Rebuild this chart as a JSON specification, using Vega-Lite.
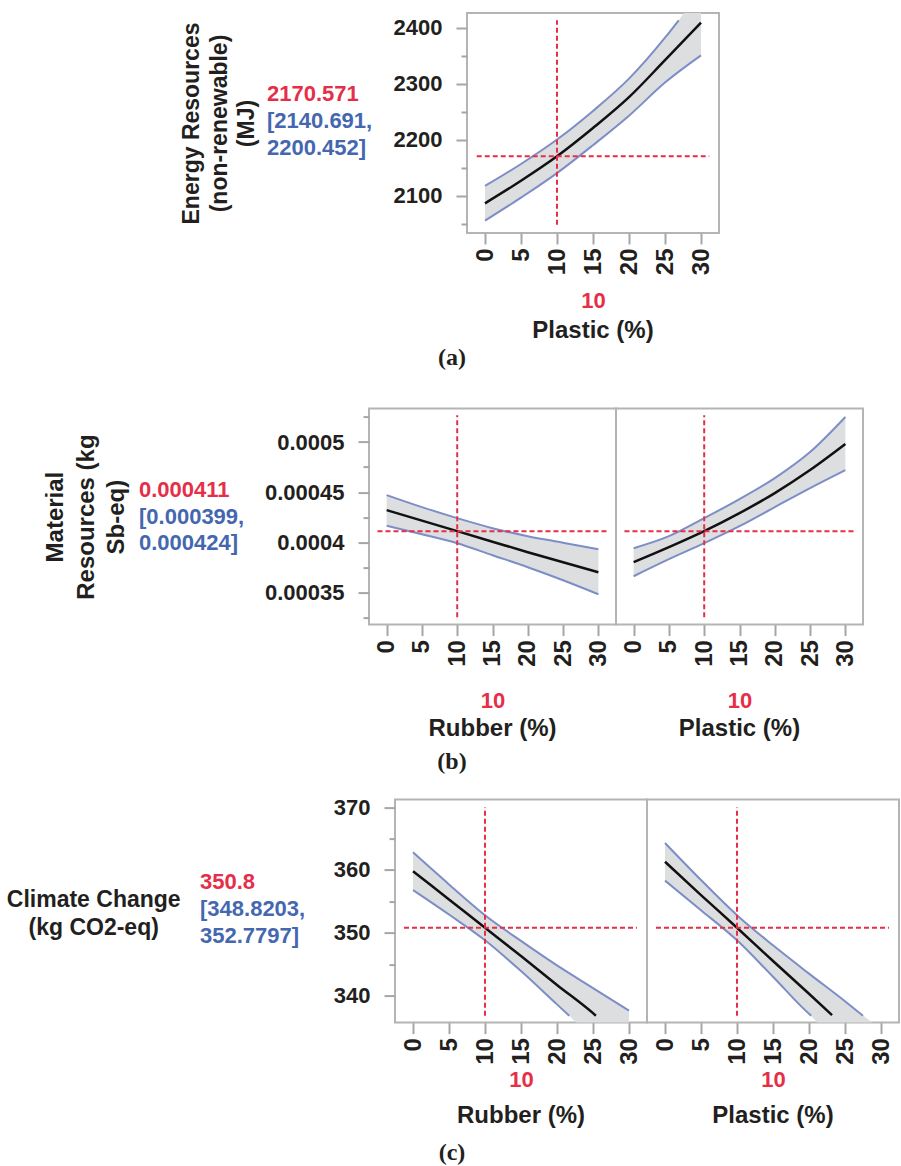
{
"$schema": "https://vega.github.io/schema/vega-lite/v6.json",
"background": "white",
"padding": {"left": 0, "top": 12, "right": 0, "bottom": 0},
"config": {
  "view": {"stroke": "#b4b4b4", "strokeWidth": 2},
  "axis": {"labelFont": "Liberation Sans", "labelFontWeight": "bold", "labelFontSize": 22, "labelColor": "#231f20", "titleFont": "Liberation Sans", "titleFontWeight": "bold", "titleFontSize": 22, "titleColor": "#231f20", "domain": false, "grid": false, "tickColor": "#a6a6a6", "tickWidth": 2, "labelOverlap": false, "labelFlush": false, "labelBound": false},
  "axisX": {"labelAngle": 270, "labelPadding": 4, "labelFontSize": 24, "tickSize": 11, "titleColor": "#e62e48"},
  "axisY": {"labelPadding": 14},
  "title": {"font": "Liberation Sans", "fontSize": 24, "fontWeight": "bold", "color": "#231f20"}
},
"datasets": {
  "a_band": [{"x":0,"lo":2056,"hi":2118},{"x":5,"lo":2097,"hi":2157},{"x":10,"lo":2140.7,"hi":2200.5},{"x":15,"lo":2190.5,"hi":2251.5},{"x":20,"lo":2243,"hi":2309},{"x":25,"lo":2302,"hi":2382},{"x":30,"lo":2350.5,"hi":2467}],
  "a_lines": [
    {"s":"m","x":0,"y":2086.8},{"s":"m","x":5,"y":2127},{"s":"m","x":10,"y":2170.6},{"s":"m","x":15,"y":2221},{"s":"m","x":20,"y":2276},{"s":"m","x":25,"y":2342},{"s":"m","x":30,"y":2409},
    {"s":"u","x":0,"y":2118},{"s":"u","x":5,"y":2157},{"s":"u","x":10,"y":2200.5},{"s":"u","x":15,"y":2251.5},{"s":"u","x":20,"y":2309},{"s":"u","x":25,"y":2382},{"s":"u","x":26.9,"y":2413},
    {"s":"l","x":0,"y":2056},{"s":"l","x":5,"y":2097},{"s":"l","x":10,"y":2140.7},{"s":"l","x":15,"y":2190.5},{"s":"l","x":20,"y":2243},{"s":"l","x":25,"y":2302},{"s":"l","x":30,"y":2350.5}],
  "a_ref": [{"ref":"x","at":10,"from":2048.5,"to":2413},{"ref":"y","at":2170.571,"from":-1.15,"to":31.15}],
  "b1_band": [{"x":0,"lo":0.0004165,"hi":0.000447},{"x":5,"lo":0.000408,"hi":0.000435},{"x":10,"lo":0.000399,"hi":0.000424},{"x":15,"lo":0.000387,"hi":0.000414},{"x":20,"lo":0.000375,"hi":0.000406},{"x":25,"lo":0.000362,"hi":0.0003995},{"x":30,"lo":0.000348,"hi":0.000393}],
  "b1_lines": [
    {"s":"m","x":0,"y":0.000432},{"s":"m","x":5,"y":0.0004215},{"s":"m","x":10,"y":0.000411},{"s":"m","x":15,"y":0.0004005},{"s":"m","x":20,"y":0.00039},{"s":"m","x":25,"y":0.00038},{"s":"m","x":30,"y":0.00037},
    {"s":"u","x":0,"y":0.000447},{"s":"u","x":5,"y":0.000435},{"s":"u","x":10,"y":0.000424},{"s":"u","x":15,"y":0.000414},{"s":"u","x":20,"y":0.000406},{"s":"u","x":25,"y":0.0003995},{"s":"u","x":30,"y":0.000393},
    {"s":"l","x":0,"y":0.0004165},{"s":"l","x":5,"y":0.000408},{"s":"l","x":10,"y":0.000399},{"s":"l","x":15,"y":0.000387},{"s":"l","x":20,"y":0.000375},{"s":"l","x":25,"y":0.000362},{"s":"l","x":30,"y":0.000348}],
  "b2_band": [{"x":0,"lo":0.000366,"hi":0.000394},{"x":5,"lo":0.000383,"hi":0.000406},{"x":10,"lo":0.000399,"hi":0.000424},{"x":15,"lo":0.000416,"hi":0.000443},{"x":20,"lo":0.000435,"hi":0.000464},{"x":25,"lo":0.000454,"hi":0.00049},{"x":30,"lo":0.000472,"hi":0.000525}],
  "b2_lines": [
    {"s":"m","x":0,"y":0.00038},{"s":"m","x":5,"y":0.000395},{"s":"m","x":10,"y":0.000411},{"s":"m","x":15,"y":0.000429},{"s":"m","x":20,"y":0.000449},{"s":"m","x":25,"y":0.000472},{"s":"m","x":30,"y":0.000498},
    {"s":"u","x":0,"y":0.000394},{"s":"u","x":5,"y":0.000406},{"s":"u","x":10,"y":0.000424},{"s":"u","x":15,"y":0.000443},{"s":"u","x":20,"y":0.000464},{"s":"u","x":25,"y":0.00049},{"s":"u","x":30,"y":0.000525},
    {"s":"l","x":0,"y":0.000366},{"s":"l","x":5,"y":0.000383},{"s":"l","x":10,"y":0.000399},{"s":"l","x":15,"y":0.000416},{"s":"l","x":20,"y":0.000435},{"s":"l","x":25,"y":0.000454},{"s":"l","x":30,"y":0.000472}],
  "b_ref": [{"ref":"x","at":10,"from":0.000325,"to":0.0005267},{"ref":"y","at":0.000411,"from":-1.3,"to":31.2}],
  "c1_band": [{"x":0,"lo":356.8,"hi":362.8},{"x":5,"lo":352.9,"hi":357.7},{"x":10,"lo":348.8,"hi":352.8},{"x":15,"lo":343.9,"hi":348.7},{"x":20,"lo":338.6,"hi":344.8},{"x":25,"lo":333.2,"hi":341.2},{"x":30,"lo":327.6,"hi":337.6}],
  "c1_lines": [
    {"s":"m","x":0,"y":359.8},{"s":"m","x":5,"y":355.3},{"s":"m","x":10,"y":350.8},{"s":"m","x":15,"y":346.3},{"s":"m","x":20,"y":341.7},{"s":"m","x":25,"y":337.2},{"s":"m","x":25.4,"y":336.8},
    {"s":"u","x":0,"y":362.8},{"s":"u","x":5,"y":357.7},{"s":"u","x":10,"y":352.8},{"s":"u","x":15,"y":348.7},{"s":"u","x":20,"y":344.8},{"s":"u","x":25,"y":341.2},{"s":"u","x":30,"y":337.6},
    {"s":"l","x":0,"y":356.8},{"s":"l","x":5,"y":352.9},{"s":"l","x":10,"y":348.8},{"s":"l","x":15,"y":343.9},{"s":"l","x":20,"y":338.6},{"s":"l","x":21.7,"y":336.8}],
  "c2_band": [{"x":0,"lo":358.3,"hi":364.3},{"x":5,"lo":353.6,"hi":358.4},{"x":10,"lo":348.8,"hi":352.8},{"x":15,"lo":343.0,"hi":348.0},{"x":20,"lo":337.1,"hi":343.5},{"x":25,"lo":331.1,"hi":339.1},{"x":30,"lo":325.0,"hi":334.6}],
  "c2_lines": [
    {"s":"m","x":0,"y":361.3},{"s":"m","x":5,"y":356.0},{"s":"m","x":10,"y":350.8},{"s":"m","x":15,"y":345.5},{"s":"m","x":20,"y":340.3},{"s":"m","x":23.2,"y":336.9},
    {"s":"u","x":0,"y":364.3},{"s":"u","x":5,"y":358.4},{"s":"u","x":10,"y":352.8},{"s":"u","x":15,"y":348.0},{"s":"u","x":20,"y":343.5},{"s":"u","x":25,"y":339.1},{"s":"u","x":27.5,"y":336.8},
    {"s":"l","x":0,"y":358.3},{"s":"l","x":5,"y":353.6},{"s":"l","x":10,"y":348.8},{"s":"l","x":15,"y":343.0},{"s":"l","x":20,"y":337.1},{"s":"l","x":20.3,"y":336.8}],
  "c_ref": [{"ref":"x","at":10,"from":336.8,"to":370},{"ref":"y","at":350.8,"from":-1.25,"to":31.1}]
},
"vconcat": [
{
  "hconcat": [
    {"width": 266.4, "height": 220, "view": {"stroke": null}, "data": {"values": []}, "mark": {"type": "rect", "opacity": 0}},
    {"width": 200, "height": 220, "view": {"stroke": null},
     "data": {"values": [{"line": 1, "k": "est", "t": "2170.571"}, {"line": 2, "k": "ci", "t": "[2140.691,"}, {"line": 3, "k": "ci", "t": "2200.452]"}]},
     "mark": {"type": "text", "align": "left", "baseline": "middle", "font": "Liberation Sans", "fontSize": 22, "fontWeight": "bold"},
     "encoding": {"text": {"field": "t"}, "x": {"datum": 0, "type": "quantitative", "scale": {"domain": [0, 1]}, "axis": null},
       "y": {"field": "line", "type": "quantitative", "scale": {"domain": [-1.96, 6.128], "reverse": true, "nice": false, "zero": false},
             "axis": {"labels": false, "ticks": false, "domain": false, "grid": false, "title": ["Energy Resources", "(non-renewable)", "(MJ)"], "titlePadding": 8, "titleFontSize": 23, "titleLineHeight": 27.7}},
       "color": {"field": "k", "type": "nominal", "scale": {"domain": ["est", "ci"], "range": ["#e62e48", "#4467b0"]}, "legend": null}}},
    {"width": 252, "height": 220,
     "title": {"text": "Plastic (%)", "orient": "bottom", "anchor": "middle", "frame": "group", "offset": 7},
     "layer": [
       {"data": {"name": "a_band"}, "mark": {"type": "area", "color": "#dddee0", "interpolate": "monotone", "clip": true},
        "encoding": {"x": {"field": "x", "type": "quantitative", "scale": {"domain": [-2.5, 32.5], "nice": false, "zero": false}, "axis": {"values": [0,5,10,15,20,25,30], "tickCount": 20, "title": "10", "titlePadding": 16, "labelOverlap": false}},
          "y": {"field": "lo", "type": "quantitative", "scale": {"domain": [2034, 2426], "nice": false, "zero": false}, "axis": {"values": [2050,2100,2150,2200,2250,2300,2350,2400], "tickCount": 20, "title": null, "labelOverlap": false, "labelExpr": "datum.value % 100 === 0 ? format(datum.value, 'd') : ''", "tickSize": {"condition": {"test": "datum.value % 100 === 0", "value": 11}, "value": 6}}},
          "y2": {"field": "hi"}}},
       {"data": {"name": "a_lines"}, "transform": [{"filter": "datum.s !== 'm'"}], "mark": {"type": "line", "color": "#7d8ec7", "strokeWidth": 2, "interpolate": "monotone", "clip": true},
        "encoding": {"x": {"field": "x", "type": "quantitative", "scale": {"domain": [-2.5, 32.5], "nice": false, "zero": false}}, "y": {"field": "y", "type": "quantitative", "scale": {"domain": [2034, 2426], "nice": false, "zero": false}}, "detail": {"field": "s"}}},
       {"data": {"name": "a_lines"}, "transform": [{"filter": "datum.s === 'm'"}], "mark": {"type": "line", "color": "#111111", "strokeWidth": 2.5, "interpolate": "monotone", "clip": true},
        "encoding": {"x": {"field": "x", "type": "quantitative", "scale": {"domain": [-2.5, 32.5], "nice": false, "zero": false}}, "y": {"field": "y", "type": "quantitative", "scale": {"domain": [2034, 2426], "nice": false, "zero": false}}}},
       {"data": {"name": "a_ref"}, "transform": [{"filter": "datum.ref === 'x'"}], "mark": {"type": "rule", "color": "#e62e48", "strokeWidth": 2, "strokeDash": [5, 3]},
        "encoding": {"x": {"field": "at", "type": "quantitative", "scale": {"domain": [-2.5, 32.5], "nice": false, "zero": false}}, "y": {"field": "from", "type": "quantitative", "scale": {"domain": [2034, 2426], "nice": false, "zero": false}}, "y2": {"field": "to"}}},
       {"data": {"name": "a_ref"}, "transform": [{"filter": "datum.ref === 'y'"}], "mark": {"type": "rule", "color": "#e62e48", "strokeWidth": 2, "strokeDash": [5, 3]},
        "encoding": {"y": {"field": "at", "type": "quantitative", "scale": {"domain": [2034, 2426], "nice": false, "zero": false}}, "x": {"field": "from", "type": "quantitative", "scale": {"domain": [-2.5, 32.5], "nice": false, "zero": false}}, "x2": {"field": "to"}}}
     ]}
  ],
  "spacing": 0, "bounds": "flush",
  "title": {"text": "(a)", "orient": "bottom", "anchor": "middle", "frame": "group", "dx": 452, "offset": 2, "font": "Liberation Serif", "fontSize": 24, "fontWeight": "bold", "color": "#231f20"}
},
{
"vconcat": [
{
  "hconcat": [
    {"width": 138.3, "height": 216, "view": {"stroke": null}, "data": {"values": []}, "mark": {"type": "rect", "opacity": 0}},
    {"width": 230, "height": 216, "view": {"stroke": null},
     "data": {"values": [{"line": 1, "k": "est", "t": "0.000411"}, {"line": 2, "k": "ci", "t": "[0.000399,"}, {"line": 3, "k": "ci", "t": "0.000424]"}]},
     "mark": {"type": "text", "align": "left", "baseline": "middle", "font": "Liberation Sans", "fontSize": 22, "fontWeight": "bold"},
     "encoding": {"text": {"field": "t"}, "x": {"datum": 0, "type": "quantitative", "scale": {"domain": [0, 1]}, "axis": null},
       "y": {"field": "line", "type": "quantitative", "scale": {"domain": [-2.045, 6.045], "reverse": true, "nice": false, "zero": false},
             "axis": {"labels": false, "ticks": false, "domain": false, "grid": false, "title": ["Material", "Resources (kg", "Sb-eq)"], "titlePadding": 10.5, "titleFontSize": 24, "titleLineHeight": 30.5}},
       "color": {"field": "k", "type": "nominal", "scale": {"domain": ["est", "ci"], "range": ["#e62e48", "#4467b0"]}, "legend": null}}},
    {"hconcat": [
      {"width": 247, "height": 216,
       "title": {"text": "Rubber (%)", "orient": "bottom", "anchor": "middle", "frame": "group", "offset": 5.5},
       "layer": [
         {"data": {"name": "b1_band"}, "mark": {"type": "area", "color": "#dddee0", "interpolate": "monotone", "clip": true},
          "encoding": {"x": {"field": "x", "type": "quantitative", "scale": {"domain": [-2.5, 32.5], "nice": false, "zero": false}, "axis": {"values": [0,5,10,15,20,25,30], "tickCount": 20, "title": "10", "titlePadding": 24, "labelOverlap": false}},
            "y": {"field": "lo", "type": "quantitative", "scale": {"domain": [0.0003177, 0.0005334], "nice": false, "zero": false}, "axis": {"values": [0.000325,0.00035,0.000375,0.0004,0.000425,0.00045,0.000475,0.0005,0.000525], "tickCount": 20, "title": null, "labelOverlap": false, "labelExpr": "round(datum.value * 1e6) % 50 === 0 ? format(datum.value, '~g') : ''", "tickSize": {"condition": {"test": "round(datum.value * 1e6) % 50 === 0", "value": 11}, "value": 6}}},
            "y2": {"field": "hi"}}},
         {"data": {"name": "b1_lines"}, "transform": [{"filter": "datum.s !== 'm'"}], "mark": {"type": "line", "color": "#7d8ec7", "strokeWidth": 2, "interpolate": "monotone", "clip": true},
          "encoding": {"x": {"field": "x", "type": "quantitative", "scale": {"domain": [-2.5, 32.5], "nice": false, "zero": false}}, "y": {"field": "y", "type": "quantitative", "scale": {"domain": [0.0003177, 0.0005334], "nice": false, "zero": false}}, "detail": {"field": "s"}}},
         {"data": {"name": "b1_lines"}, "transform": [{"filter": "datum.s === 'm'"}], "mark": {"type": "line", "color": "#111111", "strokeWidth": 2.5, "interpolate": "monotone", "clip": true},
          "encoding": {"x": {"field": "x", "type": "quantitative", "scale": {"domain": [-2.5, 32.5], "nice": false, "zero": false}}, "y": {"field": "y", "type": "quantitative", "scale": {"domain": [0.0003177, 0.0005334], "nice": false, "zero": false}}}},
         {"data": {"name": "b_ref"}, "transform": [{"filter": "datum.ref === 'x'"}], "mark": {"type": "rule", "color": "#e62e48", "strokeWidth": 2, "strokeDash": [5, 3]},
          "encoding": {"x": {"field": "at", "type": "quantitative", "scale": {"domain": [-2.5, 32.5], "nice": false, "zero": false}}, "y": {"field": "from", "type": "quantitative", "scale": {"domain": [0.0003177, 0.0005334], "nice": false, "zero": false}}, "y2": {"field": "to"}}},
         {"data": {"name": "b_ref"}, "transform": [{"filter": "datum.ref === 'y'"}], "mark": {"type": "rule", "color": "#e62e48", "strokeWidth": 2, "strokeDash": [5, 3]},
          "encoding": {"y": {"field": "at", "type": "quantitative", "scale": {"domain": [0.0003177, 0.0005334], "nice": false, "zero": false}}, "x": {"field": "from", "type": "quantitative", "scale": {"domain": [-2.5, 32.5], "nice": false, "zero": false}}, "x2": {"field": "to"}}}
       ]},
      {"width": 247, "height": 216,
       "title": {"text": "Plastic (%)", "orient": "bottom", "anchor": "middle", "frame": "group", "offset": 5.5},
       "layer": [
         {"data": {"name": "b2_band"}, "mark": {"type": "area", "color": "#dddee0", "interpolate": "monotone", "clip": true},
          "encoding": {"x": {"field": "x", "type": "quantitative", "scale": {"domain": [-2.5, 32.5], "nice": false, "zero": false}, "axis": {"values": [0,5,10,15,20,25,30], "tickCount": 20, "title": "10", "titlePadding": 24, "labelOverlap": false}},
            "y": {"field": "lo", "type": "quantitative", "scale": {"domain": [0.0003177, 0.0005334], "nice": false, "zero": false}, "axis": null},
            "y2": {"field": "hi"}}},
         {"data": {"name": "b2_lines"}, "transform": [{"filter": "datum.s !== 'm'"}], "mark": {"type": "line", "color": "#7d8ec7", "strokeWidth": 2, "interpolate": "monotone", "clip": true},
          "encoding": {"x": {"field": "x", "type": "quantitative", "scale": {"domain": [-2.5, 32.5], "nice": false, "zero": false}}, "y": {"field": "y", "type": "quantitative", "scale": {"domain": [0.0003177, 0.0005334], "nice": false, "zero": false}, "axis": null}, "detail": {"field": "s"}}},
         {"data": {"name": "b2_lines"}, "transform": [{"filter": "datum.s === 'm'"}], "mark": {"type": "line", "color": "#111111", "strokeWidth": 2.5, "interpolate": "monotone", "clip": true},
          "encoding": {"x": {"field": "x", "type": "quantitative", "scale": {"domain": [-2.5, 32.5], "nice": false, "zero": false}}, "y": {"field": "y", "type": "quantitative", "scale": {"domain": [0.0003177, 0.0005334], "nice": false, "zero": false}, "axis": null}}},
         {"data": {"name": "b_ref"}, "transform": [{"filter": "datum.ref === 'x'"}], "mark": {"type": "rule", "color": "#e62e48", "strokeWidth": 2, "strokeDash": [5, 3]},
          "encoding": {"x": {"field": "at", "type": "quantitative", "scale": {"domain": [-2.5, 32.5], "nice": false, "zero": false}}, "y": {"field": "from", "type": "quantitative", "scale": {"domain": [0.0003177, 0.0005334], "nice": false, "zero": false}, "axis": null}, "y2": {"field": "to"}}},
         {"data": {"name": "b_ref"}, "transform": [{"filter": "datum.ref === 'y'"}], "mark": {"type": "rule", "color": "#e62e48", "strokeWidth": 2, "strokeDash": [5, 3]},
          "encoding": {"y": {"field": "at", "type": "quantitative", "scale": {"domain": [0.0003177, 0.0005334], "nice": false, "zero": false}, "axis": null}, "x": {"field": "from", "type": "quantitative", "scale": {"domain": [-2.5, 32.5], "nice": false, "zero": false}}, "x2": {"field": "to"}}}
       ]}
    ], "spacing": 0, "bounds": "flush"}
  ],
  "spacing": 0, "bounds": "flush",
  "title": {"text": "(b)", "orient": "bottom", "anchor": "middle", "frame": "group", "dx": 452, "offset": 8, "font": "Liberation Serif", "fontSize": 24, "fontWeight": "bold", "color": "#231f20"}
},
{
  "hconcat": [
    {"width": 199.3, "height": 223, "view": {"stroke": null}, "data": {"values": []}, "mark": {"type": "rect", "opacity": 0}},
    {"width": 194.7, "height": 223, "view": {"stroke": null},
     "data": {"values": [{"line": 1, "k": "est", "t": "350.8"}, {"line": 2, "k": "ci", "t": "[348.8203,"}, {"line": 3, "k": "ci", "t": "352.7797]"}]},
     "mark": {"type": "text", "align": "left", "baseline": "middle", "font": "Liberation Sans", "fontSize": 22, "fontWeight": "bold"},
     "encoding": {"text": {"field": "t"}, "x": {"datum": 0, "type": "quantitative", "scale": {"domain": [0, 1]}, "axis": null},
       "y": {"field": "line", "type": "quantitative", "scale": {"domain": [-2.026, 6.174], "reverse": true, "nice": false, "zero": false},
             "axis": {"labels": false, "ticks": false, "domain": false, "grid": false, "title": ["Climate Change", "(kg CO2-eq)"], "titleAngle": 0, "titleAlign": "center", "titleBaseline": "bottom", "titlePadding": 78.5, "titleFontSize": 23, "titleLineHeight": 28.3}},
       "color": {"field": "k", "type": "nominal", "scale": {"domain": ["est", "ci"], "range": ["#e62e48", "#4467b0"]}, "legend": null}}},
    {"hconcat": [
      {"width": 252, "height": 223,
       "title": {"text": "Rubber (%)", "orient": "bottom", "anchor": "middle", "frame": "group", "offset": 14},
       "layer": [
         {"data": {"name": "c1_band"}, "mark": {"type": "area", "color": "#dddee0", "interpolate": "monotone", "clip": true},
          "encoding": {"x": {"field": "x", "type": "quantitative", "scale": {"domain": [-2.5, 32.5], "nice": false, "zero": false}, "axis": {"values": [0,5,10,15,20,25,30], "tickCount": 20, "title": "10", "titlePadding": 5, "labelOverlap": false}},
            "y": {"field": "lo", "type": "quantitative", "scale": {"domain": [335.7, 371.2], "nice": false, "zero": false}, "axis": {"values": [340,345,350,355,360,365,370], "tickCount": 20, "title": null, "labelOverlap": false, "labelExpr": "datum.value % 10 === 0 ? format(datum.value, 'd') : ''", "tickSize": {"condition": {"test": "datum.value % 10 === 0", "value": 11}, "value": 6}}},
            "y2": {"field": "hi"}}},
         {"data": {"name": "c1_lines"}, "transform": [{"filter": "datum.s !== 'm'"}], "mark": {"type": "line", "color": "#7d8ec7", "strokeWidth": 2, "interpolate": "monotone", "clip": true},
          "encoding": {"x": {"field": "x", "type": "quantitative", "scale": {"domain": [-2.5, 32.5], "nice": false, "zero": false}}, "y": {"field": "y", "type": "quantitative", "scale": {"domain": [335.7, 371.2], "nice": false, "zero": false}}, "detail": {"field": "s"}}},
         {"data": {"name": "c1_lines"}, "transform": [{"filter": "datum.s === 'm'"}], "mark": {"type": "line", "color": "#111111", "strokeWidth": 2.5, "interpolate": "monotone", "clip": true},
          "encoding": {"x": {"field": "x", "type": "quantitative", "scale": {"domain": [-2.5, 32.5], "nice": false, "zero": false}}, "y": {"field": "y", "type": "quantitative", "scale": {"domain": [335.7, 371.2], "nice": false, "zero": false}}}},
         {"data": {"name": "c_ref"}, "transform": [{"filter": "datum.ref === 'x'"}], "mark": {"type": "rule", "color": "#e62e48", "strokeWidth": 2, "strokeDash": [5, 3]},
          "encoding": {"x": {"field": "at", "type": "quantitative", "scale": {"domain": [-2.5, 32.5], "nice": false, "zero": false}}, "y": {"field": "from", "type": "quantitative", "scale": {"domain": [335.7, 371.2], "nice": false, "zero": false}}, "y2": {"field": "to"}}},
         {"data": {"name": "c_ref"}, "transform": [{"filter": "datum.ref === 'y'"}], "mark": {"type": "rule", "color": "#e62e48", "strokeWidth": 2, "strokeDash": [5, 3]},
          "encoding": {"y": {"field": "at", "type": "quantitative", "scale": {"domain": [335.7, 371.2], "nice": false, "zero": false}}, "x": {"field": "from", "type": "quantitative", "scale": {"domain": [-2.5, 32.5], "nice": false, "zero": false}}, "x2": {"field": "to"}}}
       ]},
      {"width": 252, "height": 223,
       "title": {"text": "Plastic (%)", "orient": "bottom", "anchor": "middle", "frame": "group", "offset": 14},
       "layer": [
         {"data": {"name": "c2_band"}, "mark": {"type": "area", "color": "#dddee0", "interpolate": "monotone", "clip": true},
          "encoding": {"x": {"field": "x", "type": "quantitative", "scale": {"domain": [-2.5, 32.5], "nice": false, "zero": false}, "axis": {"values": [0,5,10,15,20,25,30], "tickCount": 20, "title": "10", "titlePadding": 5, "labelOverlap": false}},
            "y": {"field": "lo", "type": "quantitative", "scale": {"domain": [335.7, 371.2], "nice": false, "zero": false}, "axis": null},
            "y2": {"field": "hi"}}},
         {"data": {"name": "c2_lines"}, "transform": [{"filter": "datum.s !== 'm'"}], "mark": {"type": "line", "color": "#7d8ec7", "strokeWidth": 2, "interpolate": "monotone", "clip": true},
          "encoding": {"x": {"field": "x", "type": "quantitative", "scale": {"domain": [-2.5, 32.5], "nice": false, "zero": false}}, "y": {"field": "y", "type": "quantitative", "scale": {"domain": [335.7, 371.2], "nice": false, "zero": false}, "axis": null}, "detail": {"field": "s"}}},
         {"data": {"name": "c2_lines"}, "transform": [{"filter": "datum.s === 'm'"}], "mark": {"type": "line", "color": "#111111", "strokeWidth": 2.5, "interpolate": "monotone", "clip": true},
          "encoding": {"x": {"field": "x", "type": "quantitative", "scale": {"domain": [-2.5, 32.5], "nice": false, "zero": false}}, "y": {"field": "y", "type": "quantitative", "scale": {"domain": [335.7, 371.2], "nice": false, "zero": false}, "axis": null}}},
         {"data": {"name": "c_ref"}, "transform": [{"filter": "datum.ref === 'x'"}], "mark": {"type": "rule", "color": "#e62e48", "strokeWidth": 2, "strokeDash": [5, 3]},
          "encoding": {"x": {"field": "at", "type": "quantitative", "scale": {"domain": [-2.5, 32.5], "nice": false, "zero": false}}, "y": {"field": "from", "type": "quantitative", "scale": {"domain": [335.7, 371.2], "nice": false, "zero": false}, "axis": null}, "y2": {"field": "to"}}},
         {"data": {"name": "c_ref"}, "transform": [{"filter": "datum.ref === 'y'"}], "mark": {"type": "rule", "color": "#e62e48", "strokeWidth": 2, "strokeDash": [5, 3]},
          "encoding": {"y": {"field": "at", "type": "quantitative", "scale": {"domain": [335.7, 371.2], "nice": false, "zero": false}, "axis": null}, "x": {"field": "from", "type": "quantitative", "scale": {"domain": [-2.5, 32.5], "nice": false, "zero": false}}, "x2": {"field": "to"}}}
       ]}
    ], "spacing": 0, "bounds": "flush"}
  ],
  "spacing": 0, "bounds": "flush",
  "title": {"text": "(c)", "orient": "bottom", "anchor": "middle", "frame": "group", "dx": 452, "offset": 12, "font": "Liberation Serif", "fontSize": 24, "fontWeight": "bold", "color": "#231f20"}
}
],
"spacing": 391,
"bounds": "flush"
}
],
"spacing": 395.6,
"bounds": "flush"
}
